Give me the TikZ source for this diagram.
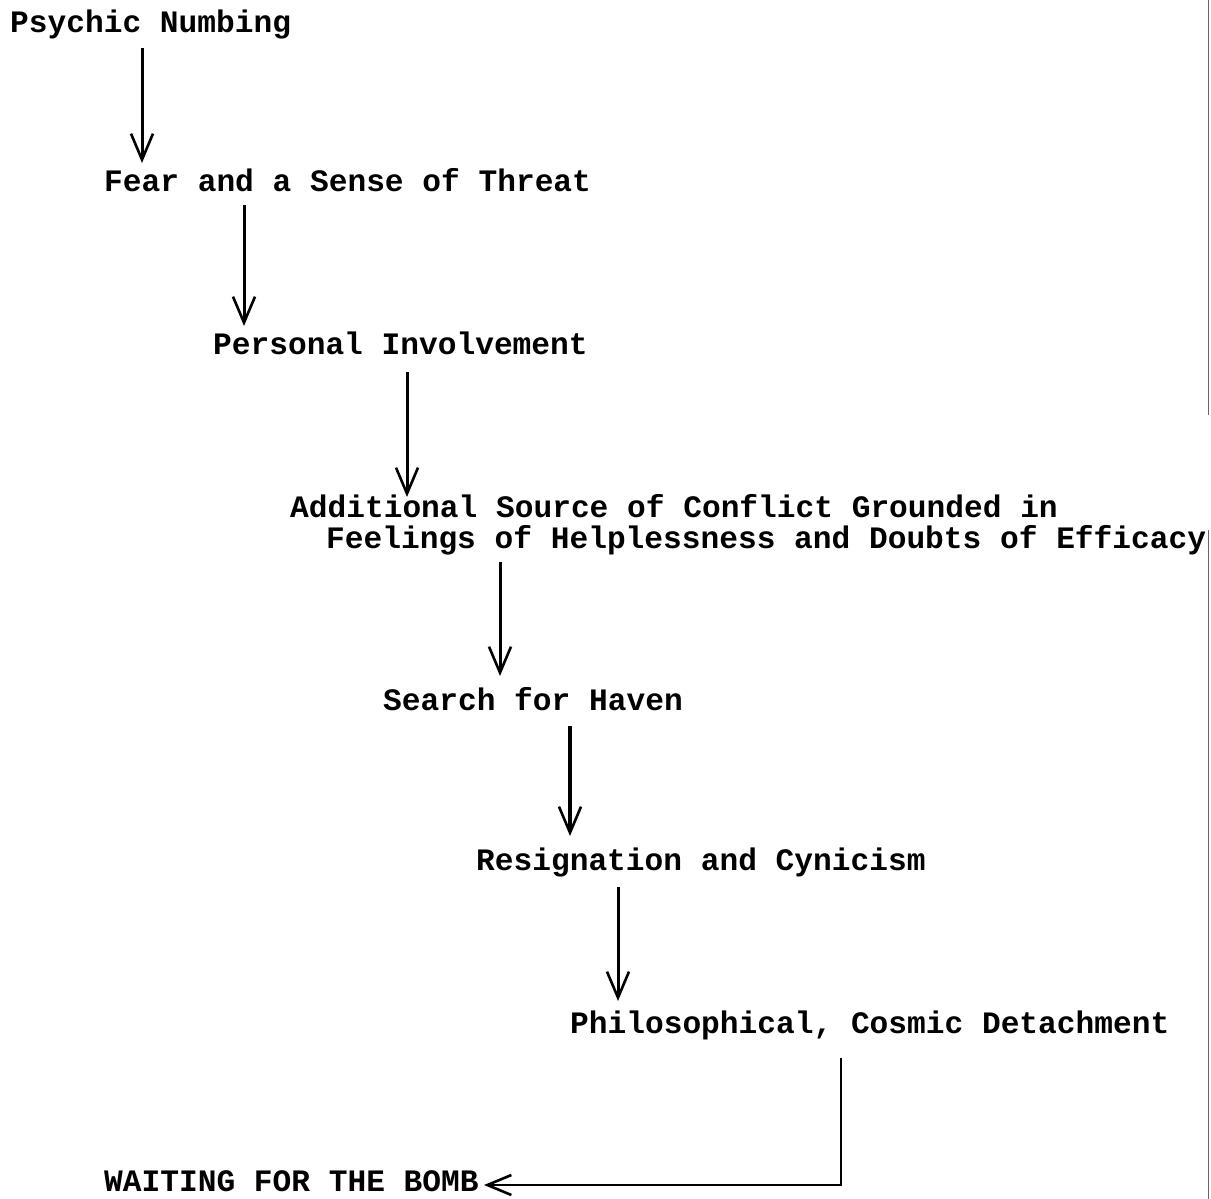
\documentclass[tikz,border=0pt]{standalone}
\usepackage{fontspec}
\usetikzlibrary{arrows.meta}
\newfontfamily\tw{Liberation Mono}
\begin{document}
\begin{tikzpicture}[x=1pt,y=-1pt,
  lbl/.style={anchor=base west,inner sep=0pt,font=\tw\bfseries\fontsize{31.2}{36}\selectfont},
  arr/.style={line width=3pt,-{Straight Barb[length=26pt,width=22pt,line width=2.6pt]}},
  edge/.style={draw=black!60,line width=1.8pt}]
\useasboundingbox (0,0) rectangle (1211,1199);
\fill[white] (0,0) rectangle (1211,1199);
\node[lbl] (n1) at (10,33) {Psychic Numbing};
\node[lbl] (n2) at (104,191) {Fear and a Sense of Threat};
\node[lbl] (n3) at (213,354) {Personal Involvement};
\node[lbl] (n4) at (290,517) {Additional Source of Conflict Grounded in};
\node[lbl] (n4b) at (326,548) {Feelings of Helplessness and Doubts of Efficacy};
\node[lbl] (n5) at (383,710) {Search for Haven};
\node[lbl] (n6) at (476,870) {Resignation and Cynicism};
\node[lbl] (n7) at (570,1033) {Philosophical, Cosmic Detachment};
\node[lbl] (n8) at (104,1191) {WAITING FOR THE BOMB};
\coordinate (a1s) at (142,48);  \coordinate (a1e) at (142,163);
\coordinate (a2s) at (244,205); \coordinate (a2e) at (244,326);
\coordinate (a3s) at (407,372); \coordinate (a3e) at (407,497);
\coordinate (a4s) at (500,562); \coordinate (a4e) at (500,676);
\coordinate (a5s) at (570,726); \coordinate (a5e) at (570,836);
\coordinate (a6s) at (618,887); \coordinate (a6e) at (618,1001);
\coordinate (a7s) at (841,1058); \coordinate (a7c) at (841,1185); \coordinate (a7e) at (484,1185);
\draw[arr] (a1s) -- (a1e);
\draw[arr] (a2s) -- (a2e);
\draw[arr] (a3s) -- (a3e);
\draw[arr] (a4s) -- (a4e);
\draw[arr,line width=4pt] (a5s) -- (a5e);
\draw[arr] (a6s) -- (a6e);
\draw[line width=2.6pt,-{Straight Barb[length=24pt,width=20pt,line width=2.6pt]}] (a7s) -- (a7c) -- (a7e);
\draw[edge] (1208.5,0) -- (1208.5,415);
\draw[edge] (1208.5,530) -- (1208.5,1199);
\end{tikzpicture}
\end{document}
